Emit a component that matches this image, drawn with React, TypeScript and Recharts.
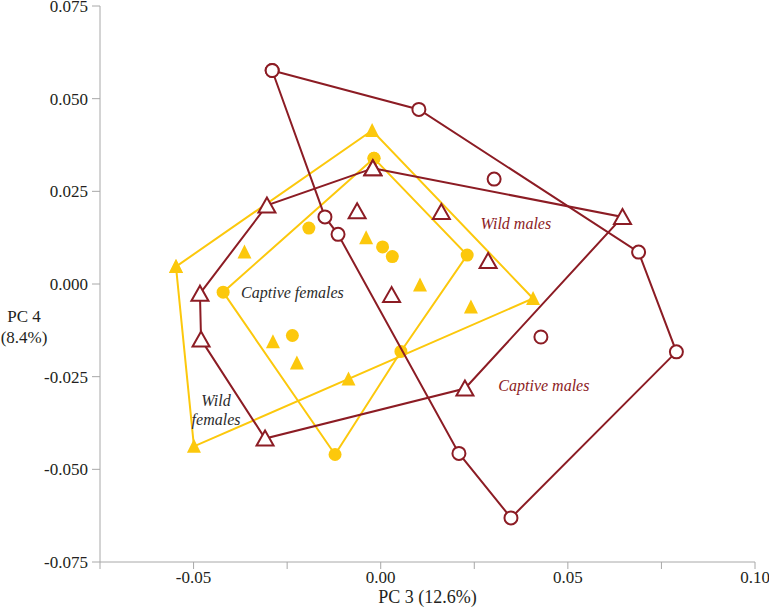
import React from "react";
import { ScatterChart, Scatter, XAxis, YAxis, ReferenceDot } from "recharts";

type Pt = { x: number; y: number };

// PC 3 / PC 4 scores. Hull points are in drawing order.
const wildMalesHull: Pt[] = [
  { x: -0.0021, y: 0.0312 },
  { x: 0.0646, y: 0.0181 },
  { x: 0.0225, y: -0.0282 },
  { x: -0.0309, y: -0.0417 },
  { x: -0.048, y: -0.015 },
  { x: -0.0483, y: -0.0026 },
  { x: -0.0304, y: 0.0212 },
];
const wildMalesInner: Pt[] = [
  { x: -0.0063, y: 0.0196 },
  { x: 0.0029, y: -0.003 },
  { x: 0.0162, y: 0.0194 },
  { x: 0.0287, y: 0.0062 },
];

const captiveMalesHull: Pt[] = [
  { x: -0.029, y: 0.0576 },
  { x: 0.0102, y: 0.0471 },
  { x: 0.0689, y: 0.0086 },
  { x: 0.079, y: -0.0183 },
  { x: 0.0348, y: -0.0631 },
  { x: 0.0209, y: -0.0457 },
  { x: -0.0114, y: 0.0134 },
  { x: -0.0149, y: 0.0181 },
];
const captiveMalesInner: Pt[] = [
  { x: 0.0303, y: 0.0283 },
  { x: 0.0428, y: -0.0143 },
];

const wildFemalesHull: Pt[] = [
  { x: -0.0547, y: 0.0047 },
  { x: -0.0023, y: 0.0414 },
  { x: 0.0407, y: -0.0039 },
  { x: -0.0499, y: -0.0438 },
];
const wildFemalesInner: Pt[] = [
  { x: -0.0364, y: 0.0086 },
  { x: -0.0288, y: -0.0156 },
  { x: -0.0224, y: -0.0213 },
  { x: -0.0086, y: -0.0256 },
  { x: -0.0039, y: 0.0125 },
  { x: 0.0105, y: -0.0003 },
  { x: 0.0241, y: -0.0062 },
];

const captiveFemalesHull: Pt[] = [
  { x: -0.0018, y: 0.0339 },
  { x: 0.0231, y: 0.0078 },
  { x: 0.0054, y: -0.0182 },
  { x: -0.0122, y: -0.046 },
  { x: -0.0421, y: -0.0022 },
];
const captiveFemalesInner: Pt[] = [
  { x: -0.0192, y: 0.0151 },
  { x: 0.0005, y: 0.01 },
  { x: 0.0031, y: 0.0074 },
  { x: -0.0236, y: -0.0139 },
];

const xTicks = [-0.075, -0.05, -0.025, 0, 0.025, 0.05, 0.075, 0.1];
const xLabelled = [-0.05, 0, 0.05, 0.1];
const yTicks = [-0.075, -0.05, -0.025, 0, 0.025, 0.05, 0.075];

const DARK = "#8c1c24";
const GOLD = "#fcc80c";
const AXIS = "#a8a8a8";
const FONT = "'Liberation Serif', 'Times New Roman', serif";

const closed = (pts: Pt[]) => [...pts, pts[0]];

const OpenTriangle = (p: any) => (
  <polygon
    points={`${p.cx},${p.cy - 8} ${p.cx - 8.5},${p.cy + 7} ${p.cx + 8.5},${p.cy + 7}`}
    fill="#fff"
    stroke={DARK}
    strokeWidth={2}
  />
);
const OpenCircle = (p: any) => (
  <circle cx={p.cx} cy={p.cy} r={6.5} fill="#fff" stroke={DARK} strokeWidth={2} />
);
const GoldTriangle = (p: any) => (
  <polygon
    points={`${p.cx},${p.cy - 7.5} ${p.cx - 7},${p.cy + 6.5} ${p.cx + 7},${p.cy + 6.5}`}
    fill={GOLD}
  />
);
const GoldCircle = (p: any) => <circle cx={p.cx} cy={p.cy} r={6.5} fill={GOLD} />;

const groupLabel = (lines: string[], color: string) => (props: any) => {
  const { x, y } = props.viewBox;
  return (
    <text
      x={x}
      y={y}
      textAnchor="middle"
      fill={color}
      fontFamily={FONT}
      fontStyle="italic"
      fontSize={16}
    >
      {lines.map((l, i) => (
        <tspan key={l} x={x} dy={i === 0 ? 5 - (lines.length - 1) * 9.5 : 19}>
          {l}
        </tspan>
      ))}
    </text>
  );
};

const YTitle = (props: any) => {
  const { x, y, height } = props.viewBox;
  const cy = y + height / 2;
  return (
    <text x={x + 24} y={cy + 38} textAnchor="middle" fill="#231f20" fontFamily={FONT} fontSize={17}>
      <tspan x={x + 24}>PC 4</tspan>
      <tspan x={x + 24} dy={21}>
        (8.4%)
      </tspan>
    </text>
  );
};

export default function App() {
  const tick = { fill: "#231f20", fontSize: 17, fontFamily: FONT };
  return (
    <div style={{ position: "absolute", left: 0, top: 0, background: "#fff" }}>
      <ScatterChart width={769} height={616} margin={{ top: 6, right: 14, bottom: 0, left: 0 }}>
        <XAxis
          type="number"
          dataKey="x"
          domain={[-0.075, 0.1]}
          ticks={xTicks}
          interval={0}
          allowDataOverflow
          height={54}
          stroke={AXIS}
          tickSize={7}
          tickMargin={2}
          tick={tick}
          tickFormatter={(v: number) =>
            xLabelled.some((t) => Math.abs(t - v) < 1e-9) ? v.toFixed(2) : ""
          }
          label={{
            value: "PC 3 (12.6%)",
            position: "insideBottom",
            offset: 13,
            fill: "#231f20",
            fontSize: 18,
            fontFamily: FONT,
          }}
        />
        <YAxis
          type="number"
          dataKey="y"
          domain={[-0.075, 0.075]}
          ticks={yTicks}
          interval={0}
          allowDataOverflow
          width={100}
          stroke={AXIS}
          tickSize={8}
          tickMargin={4}
          tick={tick}
          tickFormatter={(v: number) => v.toFixed(3)}
          label={<YTitle />}
        />

        <Scatter
          data={closed(wildFemalesHull)}
          line={{ stroke: GOLD, strokeWidth: 2 }}
          lineType="joint"
          shape={GoldTriangle}
          isAnimationActive={false}
        />
        <Scatter data={wildFemalesInner} shape={GoldTriangle} isAnimationActive={false} />
        <Scatter
          data={closed(captiveFemalesHull)}
          line={{ stroke: GOLD, strokeWidth: 2 }}
          lineType="joint"
          shape={GoldCircle}
          isAnimationActive={false}
        />
        <Scatter data={captiveFemalesInner} shape={GoldCircle} isAnimationActive={false} />

        <Scatter
          data={closed(captiveMalesHull)}
          line={{ stroke: DARK, strokeWidth: 2 }}
          lineType="joint"
          shape={OpenCircle}
          isAnimationActive={false}
        />
        <Scatter data={captiveMalesInner} shape={OpenCircle} isAnimationActive={false} />
        <Scatter
          data={closed(wildMalesHull)}
          line={{ stroke: DARK, strokeWidth: 2 }}
          lineType="joint"
          shape={OpenTriangle}
          isAnimationActive={false}
        />
        <Scatter data={wildMalesInner} shape={OpenTriangle} isAnimationActive={false} />

        <ReferenceDot x={0.0361} y={0.0163} r={0} stroke="none" fill="none" label={{ content: groupLabel(["Wild males"], DARK) }} />
        <ReferenceDot x={0.0436} y={-0.0274} r={0} stroke="none" fill="none" label={{ content: groupLabel(["Captive males"], DARK) }} />
        <ReferenceDot x={-0.0236} y={-0.0023} r={0} stroke="none" fill="none" label={{ content: groupLabel(["Captive females"], "#2b2b2b") }} />
        <ReferenceDot x={-0.044} y={-0.0342} r={0} stroke="none" fill="none" label={{ content: groupLabel(["Wild", "females"], "#2b2b2b") }} />
      </ScatterChart>
    </div>
  );
}
